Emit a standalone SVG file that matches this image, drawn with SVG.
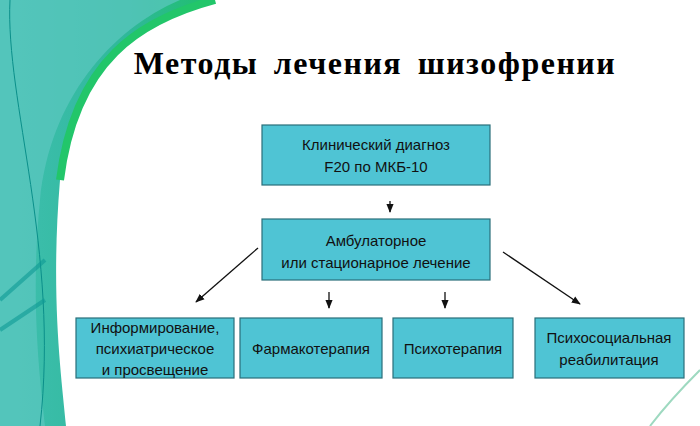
<svg xmlns="http://www.w3.org/2000/svg" width="700" height="426" viewBox="0 0 700 426">
<style>
.box{fill:#4fc4d4;stroke:#2a6f7a;stroke-width:1.2}
.t{font-family:"Liberation Sans",Arial,sans-serif;font-size:15px;fill:#111;text-anchor:middle}
.c{stroke:#111;stroke-width:1.3;fill:none}
</style>
<defs>
<marker id="a" viewBox="0 0 10 10" refX="9" refY="5" markerWidth="7" markerHeight="7" orient="auto-start-reverse"><path d="M0,1 L10,5 L0,9 z" fill="#111"/></marker>
<linearGradient id="g" x1="0" y1="0" x2="1" y2="0"><stop offset="0" stop-color="#3fbfb0"/><stop offset="0.6" stop-color="#2fb89a"/><stop offset="1" stop-color="#1fc06a"/></linearGradient>
</defs>
<rect width="700" height="426" fill="#fff"/>
<path d="M0,0 H215 C140,20 75,60 60,180 C50,300 62,380 66,426 H0 Z" fill="url(#g)"/>
<path d="M0,0 H180 C110,30 50,100 40,200 C30,300 40,380 45,426 H0 Z" fill="#5cc7c0" opacity="0.7"/>
<path d="M215,0 C140,20 75,60 60,180" stroke="#22c66a" stroke-width="8" fill="none"/>
<path d="M10,0 C5,100 60,250 40,426" stroke="#0a8f8a" stroke-width="1" fill="none"/>
<path d="M0,300 L45,260 M0,330 L45,300" stroke="#0e9a95" stroke-width="4" opacity="0.6"/>
<path d="M650,426 C670,400 690,380 700,370" stroke="#9ed9c0" stroke-width="2" fill="none"/>
<text x="375" y="74" font-family="Liberation Serif,serif" font-weight="bold" font-size="32" letter-spacing="1.5" word-spacing="6" text-anchor="middle" fill="#000">Методы лечения шизофрении</text>
<g id="connectors">
<line class="c" x1="390" y1="201" x2="390" y2="212" marker-end="url(#a)"/>
<line class="c" x1="329" y1="292" x2="329" y2="308" marker-end="url(#a)"/>
<line class="c" x1="445" y1="292" x2="445" y2="308" marker-end="url(#a)"/>
<line class="c" x1="258" y1="248" x2="196" y2="302" marker-end="url(#a)"/>
<line class="c" x1="503" y1="252" x2="580" y2="304" marker-end="url(#a)"/>
</g>
<g id="n1"><rect class="box" x="262" y="125" width="228" height="60"/><text class="t" x="376" y="150">Клинический диагноз</text><text class="t" x="376" y="172">F20 по МКБ-10</text></g>
<g id="n2"><rect class="box" x="262" y="219" width="228" height="61"/><text class="t" x="376" y="246">Амбулаторное</text><text class="t" x="376" y="268">или стационарное лечение</text></g>
<g id="n3"><rect class="box" x="76" y="318" width="158" height="60"/><text class="t" x="155" y="333">Информирование,</text><text class="t" x="155" y="354">психиатрическое</text><text class="t" x="155" y="375">и просвещение</text></g>
<g id="n4"><rect class="box" x="240" y="318" width="142" height="60"/><text class="t" x="311" y="354">Фармакотерапия</text></g>
<g id="n5"><rect class="box" x="393" y="318" width="120" height="60"/><text class="t" x="453" y="354">Психотерапия</text></g>
<g id="n6"><rect class="box" x="535" y="318" width="149" height="60"/><text class="t" x="609" y="343">Психосоциальная</text><text class="t" x="609" y="365">реабилитация</text></g>
</svg>
